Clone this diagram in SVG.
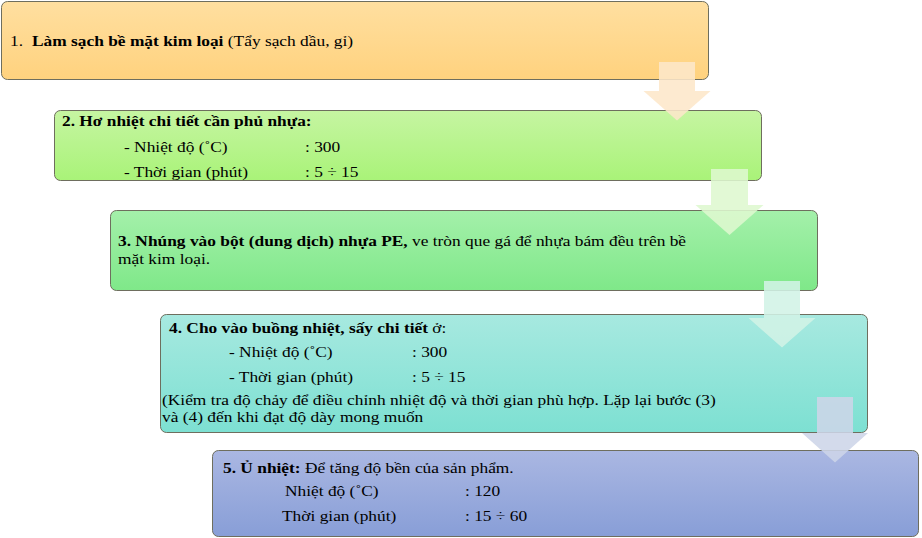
<svg xmlns="http://www.w3.org/2000/svg" width="922" height="538" viewBox="0 0 922 538">
<style>
text{font-family:"Liberation Serif","Times New Roman",serif;font-size:15.3px;fill:#000}
.b{font-weight:bold}
.box{stroke:#6e6e5e;stroke-width:1}
.arr{opacity:0.88}
</style>
<defs>
<linearGradient id="g1" x1="0" y1="0" x2="0" y2="1"><stop offset="0" stop-color="#FFDFA0"/><stop offset="1" stop-color="#FFD27E"/></linearGradient>
<linearGradient id="g2" x1="0" y1="0" x2="0" y2="1"><stop offset="0" stop-color="#C6F5A2"/><stop offset="1" stop-color="#A9F378"/></linearGradient>
<linearGradient id="g3" x1="0" y1="0" x2="0" y2="1"><stop offset="0" stop-color="#A4F0AA"/><stop offset="1" stop-color="#7FE889"/></linearGradient>
<linearGradient id="g4" x1="0" y1="0" x2="0" y2="1"><stop offset="0" stop-color="#A7E9E0"/><stop offset="1" stop-color="#7DE0D2"/></linearGradient>
<linearGradient id="g5" x1="0" y1="0" x2="0" y2="1"><stop offset="0" stop-color="#AAB7E2"/><stop offset="1" stop-color="#889ED7"/></linearGradient>
</defs>
<g id="node1">
<rect class="box" x="1.5" y="1.5" width="707" height="78" rx="6" fill="url(#g1)"/>
<text transform="translate(10,46) scale(1.135,1)">1.</text>
<text transform="translate(32,46) scale(1.135,1)"><tspan class="b">Làm sạch bề mặt kim loại</tspan> (Tẩy sạch dầu, gỉ)</text>
</g>
<g id="node2">
<rect class="box" x="54.5" y="110.5" width="707" height="70" rx="6" fill="url(#g2)"/>
<text transform="translate(62,126) scale(1.135,1)" class="b">2. Hơ nhiệt chi tiết cần phủ nhựa:</text>
<text transform="translate(124,151.5) scale(1.135,1)">- Nhiệt độ (˚C)</text>
<text transform="translate(305,151.5) scale(1.135,1)">: 300</text>
<text transform="translate(124,176.5) scale(1.135,1)">- Thời gian (phút)</text>
<text transform="translate(305,176.5) scale(1.135,1)">: 5 ÷ 15</text>
</g>
<g id="node3">
<rect class="box" x="110.5" y="210.5" width="707" height="80" rx="6" fill="url(#g3)"/>
<text transform="translate(118,245.5) scale(1.135,1)"><tspan class="b">3. Nhúng vào bột (dung dịch) nhựa PE,</tspan> ve tròn que gá để nhựa bám đều trên bề</text>
<text transform="translate(118,263.5) scale(1.135,1)">mặt kim loại.</text>
</g>
<g id="node4">
<rect class="box" x="160.5" y="314.5" width="707" height="118" rx="6" fill="url(#g4)"/>
<text transform="translate(169,333) scale(1.135,1)"><tspan class="b">4. Cho vào buồng nhiệt, sấy chi tiết</tspan> ở:</text>
<text transform="translate(229,357) scale(1.135,1)">- Nhiệt độ (˚C)</text>
<text transform="translate(412,357) scale(1.135,1)">: 300</text>
<text transform="translate(229,382) scale(1.135,1)">- Thời gian (phút)</text>
<text transform="translate(412,382) scale(1.135,1)">: 5 ÷ 15</text>
<text transform="translate(162,405) scale(1.135,1)">(Kiểm tra độ chảy để điều chỉnh nhiệt độ và thời gian phù hợp. Lặp lại bước (3)</text>
<text transform="translate(162,422) scale(1.135,1)">và (4) đến khi đạt độ dày mong muốn</text>
</g>
<g id="node5">
<rect class="box" x="212.5" y="450.5" width="706" height="86" rx="6" fill="url(#g5)"/>
<text transform="translate(223,473) scale(1.135,1)"><tspan class="b">5. Ủ nhiệt:</tspan> Để tăng độ bền của sản phẩm.</text>
<text transform="translate(285,496) scale(1.135,1)">Nhiệt độ (˚C)</text>
<text transform="translate(465,496) scale(1.135,1)">: 120</text>
<text transform="translate(282,521) scale(1.135,1)">Thời gian (phút)</text>
<text transform="translate(465,521) scale(1.135,1)">: 15 ÷ 60</text>
</g>
<g id="connectors">
<path class="arr" fill="#FDE7C9" d="M659 62H695V91H710.5L677 120.5L643.5 91H659Z"/>
<path class="arr" fill="#DEF8CF" d="M711 169H748V205H763.5L729.5 235L695.5 205H711Z"/>
<path class="arr" fill="#D1F2E6" d="M764 281H800V318H815.5L782 347.5L748.5 318H764Z"/>
<path class="arr" fill="#CDD5E8" d="M817 397H853V433H868L835 462.5L802 433H817Z"/>
</g>
</svg>
